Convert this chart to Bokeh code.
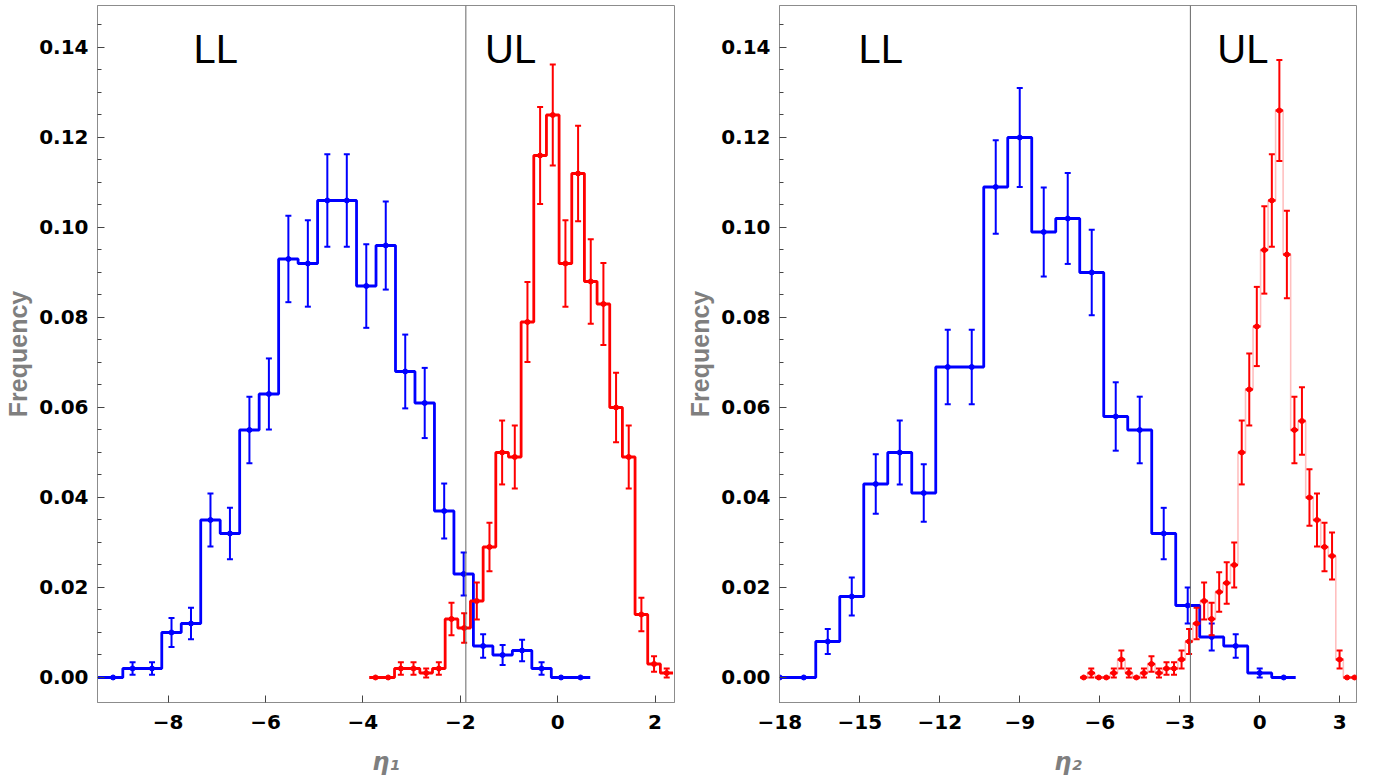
import numpy as np
from bokeh.plotting import figure
from bokeh.models import Range1d, FixedTicker, PrintfTickFormatter, Span
from bokeh.layouts import row
from bokeh.embed import file_html
from bokeh.resources import INLINE
from bokeh.core.properties import value

# ---------------- data: panel 1 (eta_1) ----------------
ll1_centers = [-9.53, -9.13, -8.73, -8.33, -7.93, -7.53, -7.13, -6.73, -6.33, -5.93,
               -5.53, -5.13, -4.73, -4.33, -3.93, -3.53, -3.13, -2.73, -2.33, -1.93,
               -1.53, -1.13, -0.73, -0.33, 0.07, 0.47]
ll1_freq = [0.000, 0.000, 0.002, 0.002, 0.010, 0.012, 0.035, 0.032, 0.055, 0.063,
            0.093, 0.092, 0.106, 0.106, 0.087, 0.096, 0.068, 0.061, 0.037, 0.023,
            0.007, 0.005, 0.006, 0.002, 0.000, 0.000]
ll1_err = [0, 0, 0.0014, 0.0014, 0.0032, 0.0035, 0.0059, 0.0057, 0.0074, 0.0079,
           0.0096, 0.0096, 0.0103, 0.0103, 0.0093, 0.0098, 0.0082, 0.0078, 0.0061, 0.0048,
           0.0026, 0.0022, 0.0024, 0.0014, 0, 0]

ul1_centers = [-3.74, -3.48, -3.22, -2.96, -2.70, -2.44, -2.18, -1.92, -1.66, -1.40,
               -1.14, -0.88, -0.62, -0.36, -0.10, 0.16, 0.42, 0.68, 0.94, 1.20,
               1.46, 1.72, 1.98, 2.24]
ul1_freq = [0.000, 0.000, 0.002, 0.002, 0.001, 0.002, 0.013, 0.011, 0.017, 0.029,
            0.050, 0.049, 0.079, 0.116, 0.125, 0.092, 0.112, 0.088, 0.083, 0.060,
            0.049, 0.014, 0.003, 0.001]
ul1_err = [0, 0, 0.0014, 0.0014, 0.0010, 0.0014, 0.0036, 0.0033, 0.0041, 0.0054,
           0.0071, 0.0070, 0.0089, 0.0108, 0.0112, 0.0096, 0.0106, 0.0094, 0.0091, 0.0077,
           0.0070, 0.0037, 0.0017, 0.0010]

# ---------------- data: panel 2 (eta_2) ----------------
ll2_centers = [-18.0, -17.1, -16.2, -15.3, -14.4, -13.5, -12.6, -11.7, -10.8, -9.9,
               -9.0, -8.1, -7.2, -6.3, -5.4, -4.5, -3.6, -2.7, -1.8, -0.9,
               0.0, 0.9]
ll2_freq = [0.000, 0.000, 0.008, 0.018, 0.043, 0.050, 0.041, 0.069, 0.069, 0.109,
            0.120, 0.099, 0.102, 0.090, 0.058, 0.055, 0.032, 0.016, 0.009, 0.007,
            0.001, 0.000]
ll2_err = [0, 0, 0.0028, 0.0042, 0.0066, 0.0071, 0.0064, 0.0083, 0.0083, 0.0104,
           0.0110, 0.0099, 0.0101, 0.0095, 0.0076, 0.0074, 0.0057, 0.0040, 0.0030, 0.0026,
           0.0010, 0]

ul2_centers = [-6.600, -6.318, -6.036, -5.753, -5.471, -5.189, -4.907, -4.625, -4.342, -4.060,
               -3.778, -3.496, -3.214, -2.931, -2.649, -2.367, -2.085, -1.803, -1.520, -1.238,
               -0.956, -0.674, -0.392, -0.109, 0.173, 0.455, 0.737, 1.019, 1.302, 1.584,
               1.866, 2.148, 2.430, 2.713, 2.995, 3.277, 3.559]
ul2_freq = [0.000, 0.001, 0.000, 0.000, 0.001, 0.004, 0.001, 0.000, 0.001, 0.003,
            0.001, 0.002, 0.002, 0.004, 0.008, 0.012, 0.017, 0.013, 0.019, 0.021,
            0.025, 0.050, 0.064, 0.078, 0.095, 0.106, 0.126, 0.094, 0.055, 0.057,
            0.040, 0.035, 0.029, 0.027, 0.004, 0.000, 0.000]
ul2_err = [0, 0.0010, 0, 0, 0.0010, 0.0020, 0.0010, 0, 0.0010, 0.0017,
           0.0010, 0.0014, 0.0014, 0.0020, 0.0028, 0.0035, 0.0041, 0.0036, 0.0044, 0.0046,
           0.0050, 0.0071, 0.0080, 0.0088, 0.0097, 0.0103, 0.0112, 0.0097, 0.0074, 0.0075,
           0.0063, 0.0059, 0.0054, 0.0052, 0.0020, 0, 0]

y_ticks = [0.00, 0.02, 0.04, 0.06, 0.08, 0.10, 0.12, 0.14]
y_minor = [0.005, 0.01, 0.015, 0.025, 0.03, 0.035, 0.045, 0.05, 0.055, 0.065, 0.07, 0.075,
           0.085, 0.09, 0.095, 0.105, 0.11, 0.115, 0.125, 0.13, 0.135, 0.145]
x1_ticks = [-8, -6, -4, -2, 0, 2]
x2_ticks = [-18, -15, -12, -9, -6, -3, 0, 3]

BLUE = "#0000FF"
RED = "#FF0000"
FRAME = "#8c8c8c"
Y_RANGE = (-0.00556, 0.14933)


def edges_of(centers):
    c = np.asarray(centers, dtype=float)
    w = c[1] - c[0]
    return np.concatenate([c - w / 2, [c[-1] + w / 2]]), w


def draw_series(p, centers, freq, err, color, pale=False):
    c = np.asarray(centers, dtype=float)
    f = np.asarray(freq, dtype=float)
    e = np.asarray(err, dtype=float)
    ed, w = edges_of(centers)
    ys = np.concatenate([f, [f[-1]]])
    if pale:
        p.step(ed, ys, mode="after", line_color=color, line_alpha=0.25, line_width=1.6)
        p.segment(x0=c - w / 2, y0=f, x1=c + w / 2, y1=f, line_color=color, line_width=2.4)
    else:
        p.step(ed, ys, mode="after", line_color=color, line_width=2.8)
    m = e > 0
    p.segment(x0=c[m], y0=f[m] - e[m], x1=c[m], y1=f[m] + e[m], line_color=color, line_width=2)
    p.scatter(np.concatenate([c[m], c[m]]), np.concatenate([f[m] - e[m], f[m] + e[m]]),
              marker="dash", size=6, line_color=color, line_width=2)
    p.scatter(c, f, marker="circle", size=5, fill_color=color, line_color=color)


def make_panel(xr, xticks, xlabel, border_left, border_right):
    p = figure(x_range=Range1d(*xr), y_range=Range1d(*Y_RANGE),
               frame_width=577, frame_height=697,
               min_border_left=border_left, min_border_right=border_right,
               min_border_top=5, min_border_bottom=70,
               output_backend="svg", toolbar_location=None)
    p.xgrid.visible = False
    p.ygrid.visible = False
    p.outline_line_color = FRAME
    p.outline_line_width = 1
    p.background_fill_color = "white"
    p.border_fill_color = "white"

    ya = p.yaxis[0]
    ya.ticker = FixedTicker(ticks=y_ticks, minor_ticks=y_minor)
    ya.formatter = PrintfTickFormatter(format="%.2f")
    ya.axis_label = "Frequency"
    ya.axis_label_text_font = "Liberation Sans"
    ya.axis_label_text_font_style = "bold"
    ya.axis_label_text_font_size = "25px"
    ya.axis_label_text_color = "#7f7f7f"
    ya.axis_label_standoff = 4

    xa = p.xaxis[0]
    xa.ticker = FixedTicker(ticks=xticks, minor_ticks=[])
    xa.major_label_overrides = {t: (("\u2212" + str(-t)) if t < 0 else str(t)) for t in xticks}
    xa.axis_label = xlabel
    xa.axis_label_text_font = "DejaVu Sans"
    xa.axis_label_text_font_style = "bold italic"
    xa.axis_label_text_font_size = "24px"
    xa.axis_label_text_color = "#7f7f7f"
    xa.axis_label_standoff = 16

    for ax in (xa, ya):
        ax.axis_line_color = FRAME
        ax.major_tick_line_color = "#444444"
        ax.minor_tick_line_color = "#444444"
        ax.major_tick_in = 7
        ax.major_tick_out = 0
        ax.minor_tick_in = 4
        ax.minor_tick_out = 0
        ax.major_label_text_font = "DejaVu Sans"
        ax.major_label_text_font_style = "bold"
        ax.major_label_text_font_size = "20px"
        ax.major_label_text_color = "black"
    ya.major_label_standoff = 9
    xa.major_label_standoff = 12
    return p


p1 = make_panel((-9.45, 2.40), x1_ticks, "\u03b7\u2081", 97, 8)
draw_series(p1, ll1_centers, ll1_freq, ll1_err, BLUE)
draw_series(p1, ul1_centers, ul1_freq, ul1_err, RED)
p1.add_layout(Span(location=-1.885, dimension="height", line_color="#666666", line_width=1))
p1.text(x=[-7.48, -1.49], y=[0.1397, 0.1397], text=["LL", "UL"],
        text_font=value("Liberation Sans"), text_font_size="40px",
        text_color="black", text_baseline="middle", text_align="left")

p2 = make_panel((-18.01, 3.63), x2_ticks, "\u03b7\u2082", 97, 8)
draw_series(p2, ll2_centers, ll2_freq, ll2_err, BLUE)
draw_series(p2, ul2_centers, ul2_freq, ul2_err, RED, pale=True)
p2.add_layout(Span(location=-2.6, dimension="height", line_color="#666666", line_width=1))
p2.text(x=[-15.05, -1.59], y=[0.1397, 0.1397], text=["LL", "UL"],
        text_font=value("Liberation Sans"), text_font_size="40px",
        text_color="black", text_baseline="middle", text_align="left")

layout = row(p1, p2)
open("out.html", "w").write(file_html(layout, INLINE))
